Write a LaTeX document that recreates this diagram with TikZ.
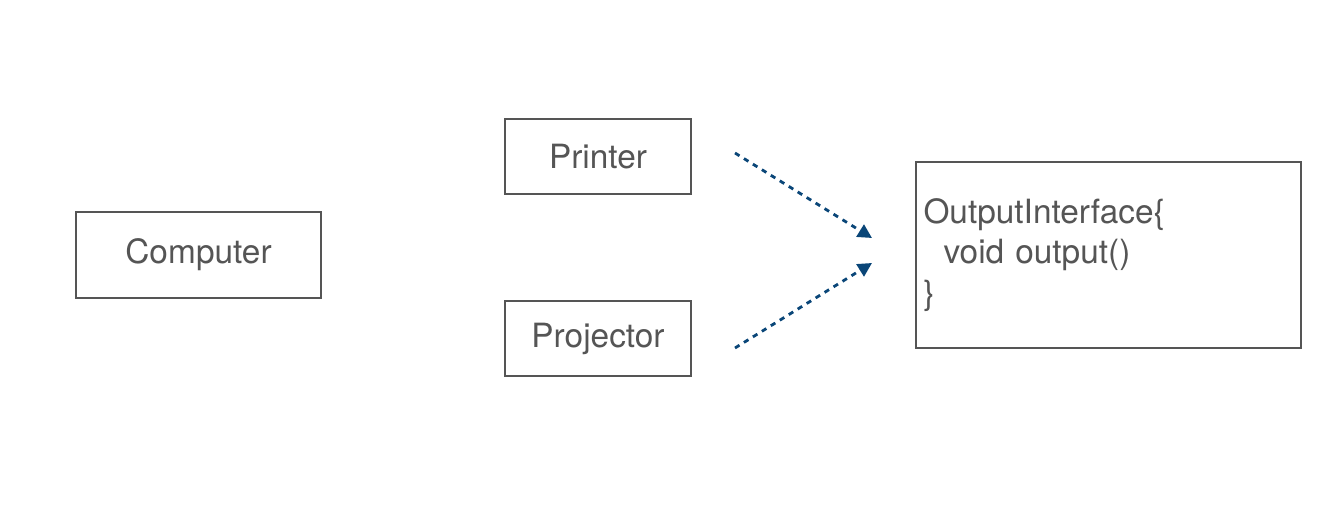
\documentclass[tikz,border=0pt]{standalone}
\usepackage{fontspec}
\setmainfont{TeX Gyre Heros}
\definecolor{txtgray}{RGB}{85,85,85}
\definecolor{arrblue}{RGB}{10,70,120}
\tikzset{
  box/.style={draw=txtgray, line width=1pt, text=txtgray, font=\fontsize{19}{23}\selectfont},
  dep/.style={draw=arrblue, line width=1.6pt, dashed, -{Triangle[length=8pt,width=8pt]}}
}
\usetikzlibrary{arrows.meta}
\begin{document}
\begin{tikzpicture}[x=0.02cm, y=-0.02cm]
  \useasboundingbox (0,0) rectangle (1336,504);
  \node[box, minimum width=245*0.02cm, minimum height=86*0.02cm] (computer) at (198.5,255) {Computer};
  \node[box, minimum width=186*0.02cm, minimum height=75*0.02cm] (printer) at (598,156.5) {Printer};
  \node[box, minimum width=186*0.02cm, minimum height=75*0.02cm] (projector) at (598,338.5) {Projector};
  \node[box, minimum width=385*0.02cm, minimum height=186*0.02cm, align=left, text width=370*0.02cm, inner sep=4pt] (iface) at (1108.5,255)
    {OutputInterface\{\\\hspace*{0.4cm}void output()\\\}};
  \coordinate (ps) at (735,153);
  \coordinate (pe) at (872,238);
  \coordinate (js) at (735,348);
  \coordinate (je) at (872,263);
  \draw[dep] (ps) -- (pe);
  \draw[dep] (js) -- (je);
\end{tikzpicture}
\end{document}
